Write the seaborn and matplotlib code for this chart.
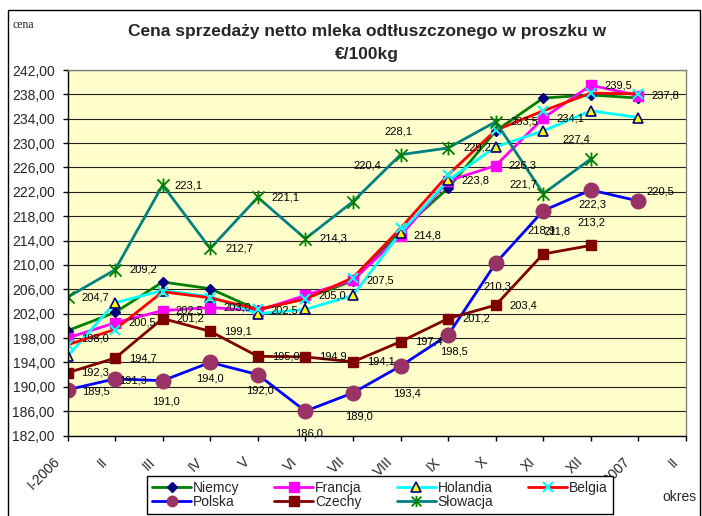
import numpy as np
import pandas as pd
import matplotlib
matplotlib.use("Agg")
import matplotlib.pyplot as plt
import matplotlib.transforms as mtransforms
import seaborn as sns
from matplotlib.path import Path
from matplotlib.patches import Rectangle

# ---------------- data ----------------
months = ["I-2006", "II", "III", "IV", "V", "VI", "VII", "VIII", "IX", "X",
          "XI", "XII", "I-2007", "II"]
y_ticks = [182, 186, 190, 194, 198, 202, 206, 210, 214, 218, 222, 226, 230,
           234, 238, 242]

niemcy = [199.2, 202.2, 207.2, 206.1, 202.6, 204.5, 207.4, 215.6, 222.6,
          232.0, 237.4, 237.9, 237.4]
francja = [198.0, 200.5, 202.5, 203.0, 202.5, 205.0, 207.5, 214.8, 223.8,
           226.3, 234.1, 239.5, 237.8]
holandia = [195.0, 203.8, 205.8, 204.8, 202.0, 202.7, 205.0, 215.3, 223.9,
            229.4, 232.0, 235.3, 234.2]
belgia = [196.9, 199.4, 205.6, 204.6, 202.7, 204.4, 207.9, 216.0, 224.8,
          232.1, 235.3, 238.2, 238.1]
polska = [189.5, 191.3, 191.0, 194.0, 192.0, 186.0, 189.0, 193.4, 198.5,
          210.3, 218.9, 222.3, 220.5]
czechy = [192.3, 194.7, 201.2, 199.1, 195.0, 194.9, 194.1, 197.4, 201.2,
          203.4, 211.8, 213.2]
slowacja = [204.7, 209.2, 223.1, 212.7, 221.1, 214.3, 220.4, 228.1, 229.2,
            233.5, 221.7, 227.4]

title = "Cena sprzedaży netto mleka odtłuszczonego w proszku w\n€/100kg"

# ---------------- style ----------------
sns.set_style("white")
plt.rcParams['font.family'] = ['Liberation Sans', 'DejaVu Sans']

fig = plt.figure(figsize=(7.02, 5.16), dpi=100)
ax = fig.add_axes([67.5 / 702, 1 - 435.5 / 516, (686 - 67.5) / 702,
                   (435.5 - 70) / 516])
ax.set_facecolor("#FFFFCC")

star = Path([(-1, -1), (1, 1), (-1, 1), (1, -1), (0, -1.15), (0, 1.15)],
            [Path.MOVETO, Path.LINETO, Path.MOVETO, Path.LINETO,
             Path.MOVETO, Path.LINETO])

series = [
    ("Niemcy", niemcy, dict(color="#008000", marker="D", ms=5.5,
                            mfc="#000080", mec="#000080", mew=1)),
    ("Francja", francja, dict(color="#FF00FF", marker="s", ms=6.5,
                              mfc="#FF00FF", mec="#FF00FF", mew=1)),
    ("Holandia", holandia, dict(color="#00FFFF", marker="^", ms=7.5,
                                mfc="#FFFF00", mec="#000080", mew=1.2)),
    ("Belgia", belgia, dict(color="#FF0000", marker="x", ms=7.5,
                            mfc="#00FFFF", mec="#00FFFF", mew=1.5)),
    ("Polska", polska, dict(color="#0000FF", marker="o", ms=10.5,
                            mfc="#993366", mec="#993366", mew=1)),
    ("Czechy", czechy, dict(color="#800000", marker="s", ms=7.5,
                            mfc="#800000", mec="#800000", mew=1)),
    ("Słowacja", slowacja, dict(color="#008080", marker=star, ms=10,
                                mfc="none", mec="#008000", mew=1.3)),
]

handles = {}
for name, vals, st in series:
    df = pd.DataFrame({"x": np.arange(len(vals)), "y": vals})
    sns.lineplot(data=df, x="x", y="y", ax=ax, color=st["color"],
                 marker=st["marker"], markersize=st["ms"],
                 markerfacecolor=st["mfc"], markeredgecolor=st["mec"],
                 markeredgewidth=st["mew"], linewidth=2.0, errorbar=None,
                 sort=False, legend=False)
    handles[name] = ax.lines[-1]

# ---------------- data labels ----------------
def fmt(v):
    return f"{v:.1f}".replace(".", ",")

lab_off = {
    "Francja": [(27, 0)] * 13,
    "Słowacja": [(28, 0), (28, 0), (26, 0), (29, 0), (28, 0), (28, 0),
                 (14, -36), (-2, -23), (29, 0), (29, 0), (-20, -9),
                 (-15, -19)],
    "Czechy": [(28, 0)] * 10 + [(14, -22), (1, -23)],
    "Polska": [(28, 2), (18, 2), (3, 21), (0, 16), (2, 16), (4, 22),
               (6, 24), (6, 27), (6, 17), (2, 23), (-2, 20), (2, 14),
               (22, -9)],
}
data_map = {n: v for n, v, _ in series}
for name, offs in lab_off.items():
    vals = data_map[name]
    for i, (v, (dx, dy)) in enumerate(zip(vals, offs)):
        ax.annotate(fmt(v), (i, v), xytext=(dx, -dy),
                    textcoords="offset pixels", ha="center", va="center",
                    fontsize=8, color="black", zorder=10,
                    annotation_clip=False)

# ---------------- axes ----------------
ax.set_xlim(0, 13)
ax.set_ylim(182, 242)
ax.set_yticks(y_ticks)
ax.set_yticklabels([f"{t:.2f}".replace(".", ",") for t in y_ticks],
                   fontsize=10)
ax.set_xticks(np.arange(len(months)))
ax.set_xticklabels(months, rotation=45, ha="right", va="center",
                   rotation_mode="anchor", fontsize=10)
ax.tick_params(axis="both", direction="out", length=3.6, width=1,
               color="black", left=True, bottom=True)
ax.tick_params(axis="x", pad=0)
ax.tick_params(axis="y", pad=5.5)
shift = mtransforms.ScaledTranslation(-10 / 100, -19 / 100,
                                      fig.dpi_scale_trans)
for lab in ax.get_xticklabels():
    lab.set_transform(lab.get_transform() + shift)
ax.set_xlabel("")
ax.set_ylabel("")
ax.grid(axis="y", color="#222222", linewidth=0.8)
ax.grid(axis="x", visible=False)
ax.set_axisbelow(True)
for s in ["left", "bottom"]:
    ax.spines[s].set_color("black")
    ax.spines[s].set_linewidth(1)
for s in ["top", "right"]:
    ax.spines[s].set_color("#808080")
    ax.spines[s].set_linewidth(1)

# ---------------- texts ----------------
fig.text(367 / 702, 1 - 43 / 516, title, ha="center", va="center",
         fontsize=12.5, fontweight="bold", linespacing=1.65)
fig.text(12 / 702, 1 - 25 / 516, "cena", ha="left", va="center",
         fontsize=8.5, family=["Liberation Serif", "DejaVu Serif"])
fig.text(662 / 702, 1 - 497 / 516, "okres", ha="left", va="center",
         fontsize=10)

# ---------------- legend ----------------
order = ["Niemcy", "Polska", "Francja", "Czechy", "Holandia", "Słowacja",
         "Belgia"]
leg = fig.legend([handles[n] for n in order], order, ncol=4,
                 loc="center", bbox_to_anchor=(380 / 702, 1 - 495 / 516),
                 frameon=True, fancybox=False, shadow=False, fontsize=10,
                 handlelength=2.8, handletextpad=0.15, columnspacing=2.5,
                 labelspacing=0.05, borderpad=0.35, borderaxespad=0)
leg.get_frame().set_edgecolor("black")
leg.get_frame().set_linewidth(1)
leg.get_frame().set_facecolor("white")
leg.get_frame().set_alpha(1)
for h, n in zip(leg.legend_handles, order):
    if n == "Polska":
        h.set_markersize(7.5)
    elif n == "Słowacja":
        h.set_markersize(8)

# outer chart border
fig.add_artist(Rectangle((8 / 702, -0.05), (700 - 8) / 702,
                         (516 - 10) / 516 + 0.05, transform=fig.transFigure,
                         fill=False, edgecolor="black", linewidth=1))

fig.savefig("out.png", dpi=100)
